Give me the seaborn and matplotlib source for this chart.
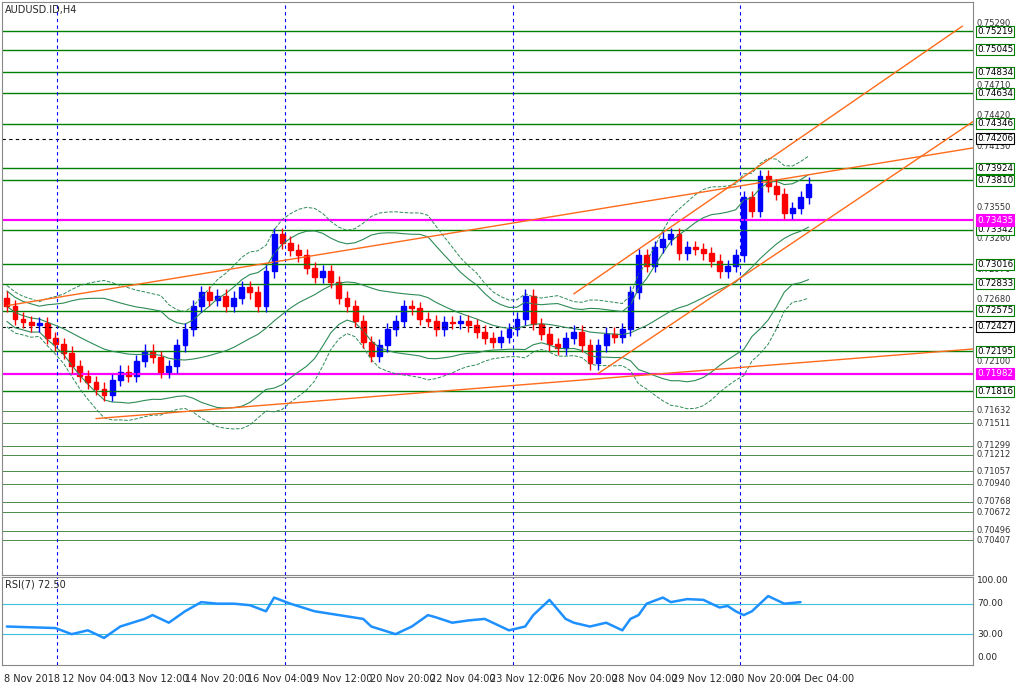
import numpy as np
import pandas as pd
import matplotlib
matplotlib.use("Agg")
import matplotlib.pyplot as plt
import seaborn as sns

sns.set_style("white")
plt.rcParams['font.family'] = ['DejaVu Sans']

closes = [0.7262,0.7250,0.7247,0.7244,0.7246,0.7232,0.7226,0.7218,0.7205,0.7196,0.7190,0.7184,0.7178,0.7192,0.7200,
          0.7196,0.7210,0.7220,0.7214,0.7200,0.7205,0.7225,0.7240,0.7262,0.7275,0.7268,0.7272,0.7262,0.7270,0.7280,
          0.7275,0.7262,0.7295,0.7330,0.7322,0.7315,0.7310,0.7298,0.7290,0.7295,0.7285,0.7270,0.7262,0.7248,0.7228,
          0.7215,0.7225,0.7240,0.7248,0.7262,0.7260,0.7250,0.7248,0.7240,0.7247,0.7246,0.7248,0.7244,0.7238,0.7232,
          0.7228,0.7233,0.7240,0.7250,0.7272,0.7245,0.7236,0.7226,0.7222,0.7232,0.7238,0.7225,0.7208,0.7225,0.7236,
          0.7233,0.7240,0.7275,0.7310,0.7300,0.7318,0.7326,0.7330,0.7312,0.7318,0.7316,0.7312,0.7305,0.7295,0.7300,
          0.7310,0.7365,0.7352,0.7385,0.7376,0.7368,0.7350,0.7355,0.7365,0.7378]
first_open = 0.7270
wick = 0.0006

rsi_x = [0,6,8,10,12,14,17,18,20,22,24,26,28,30,32,33,35,38,41,44,45,48,50,52,53,55,57,59,60,62,64,65,67,69,70,72,
         74,76,77,78,79,81,82,84,86,88,89,90,91,92,94,96,98]
rsi_v = [40,38,30,35,25,40,50,55,45,60,72,70,70,68,60,78,70,60,55,50,40,30,40,55,52,45,48,50,45,35,40,55,75,50,45,40,
         45,35,50,55,70,78,72,76,75,65,67,60,55,60,80,70,72]

level_green = [0.75219,0.75045,0.74834,0.74634,0.74346,0.73924,0.73810,0.73342,0.73016,0.72833,0.72575,0.72195,0.71816]
level_magenta = [0.73435,0.71982]
level_black = [0.74206,0.72427]
level_grey = [0.71632,0.71511,0.71299,0.71212,0.71057,0.70940,0.70768,0.70672,0.70496,0.70407]
plain_labels = [0.75290,0.74710,0.74420,0.74130,0.73550,0.73260,0.72970,0.72680,0.72100]

trend_lines = [((0,0.72625),(120,0.74126)),((70,0.72736),(118,0.75270)),((73,0.71982),(121,0.74454)),((11,0.71556),(121,0.72225))]
vlines = [6.2,34.3,62.5,90.5]
xlabels = ['8 Nov 2018','12 Nov 04:00','13 Nov 12:00','14 Nov 20:00','16 Nov 04:00','19 Nov 12:00','20 Nov 20:00',
           '22 Nov 04:00','23 Nov 12:00','26 Nov 20:00','28 Nov 04:00','29 Nov 12:00','30 Nov 20:00','4 Dec 04:00']
xlabel_pos = [-0.4,6.8,14.4,22.0,29.6,37.1,44.8,52.2,59.6,67.3,74.7,82.1,89.5,97.3]

df = pd.DataFrame({'c': closes})
df['o'] = [first_open] + closes[:-1]
df['i'] = np.arange(len(df))
mid = df['c'].rolling(20, min_periods=1).mean()
sd = df['c'].rolling(20, min_periods=2).std().bfill()

fig = plt.figure(figsize=(10.24, 6.83), dpi=100)
ax = fig.add_axes([2/1024, 1-575/683, 971/1024, 573/683])
ax2 = fig.add_axes([2/1024, 1-665/683, 971/1024, 88/683])
xmin, xmax = -0.6, 119.3
ymin, ymax = 0.70076, 0.75498
ax.set_xlim(xmin, xmax); ax.set_ylim(ymin, ymax)

for v in level_green:
    ax.axhline(v, color='green', lw=1)
for v in level_magenta:
    ax.axhline(v, color='magenta', lw=1.6)
for v in level_black:
    ax.axhline(v, color='black', lw=0.8, ls=(0,(3,3)))
for v in level_grey:
    ax.axhline(v, color='#4a8a4a', lw=0.7)
for v in vlines:
    ax.axvline(v, color='blue', lw=0.8, ls=(0,(3,3)))
    ax2.axvline(v, color='blue', lw=0.8, ls=(0,(3,3)))

sns.lineplot(x=df['i'], y=mid, ax=ax, color='#2e8b57', lw=0.8)
sns.lineplot(x=df['i'], y=mid+1.7*sd, ax=ax, color='#2e8b57', lw=0.8)
sns.lineplot(x=df['i'], y=mid-1.7*sd, ax=ax, color='#2e8b57', lw=0.8)
sns.lineplot(x=df['i'], y=mid+2.3*sd, ax=ax, color='#2e8b57', lw=0.7, ls='--')
sns.lineplot(x=df['i'], y=mid-2.3*sd, ax=ax, color='#2e8b57', lw=0.7, ls='--')

for (x0,y0),(x1,y1) in trend_lines:
    ax.plot([x0,x1],[y0,y1], color='#ff6a1a', lw=1)

for _, r in df.iterrows():
    up = r['c'] >= r['o']
    col = 'blue' if up else 'red'
    ax.vlines(r['i'], min(r['o'],r['c'])-wick, max(r['o'],r['c'])+wick, color=col, lw=1)
    h = max(abs(r['c']-r['o']), 0.00005)
    ax.add_patch(plt.Rectangle((r['i']-0.3, min(r['o'],r['c'])), 0.6, h, color=col))

ax.set_xticks([]); ax.set_yticks([])
for s in ax.spines.values(): s.set_color('#888888')

def ylab(a, v, box=None, fc='white', tc='black'):
    y = (v-ymin)/(ymax-ymin)
    if box:
        a.text(1.004, y, f"{v:.5f}", transform=a.transAxes, fontsize=6.3, va='center', color=tc, zorder=5,
               bbox=dict(boxstyle='square,pad=0.12', fc=fc, ec=box, lw=0.8))
    else:
        a.text(1.004, y, f"{v:.5f}", transform=a.transAxes, fontsize=6, va='center', color='#333333')
for v in plain_labels+level_grey: ylab(ax, v)
for v in level_green: ylab(ax, v, 'green')
for v in level_black: ylab(ax, v, 'black')
for v in level_magenta: ylab(ax, v, 'magenta', fc='magenta', tc='white')
ax.text(0.003, 0.995, 'AUDUSD.ID,H4', transform=ax.transAxes, fontsize=7, va='top')

ax2.set_xlim(xmin, xmax); ax2.set_ylim(-10.5, 105)
ax2.axhline(70, color='#3fc0e0', lw=0.8); ax2.axhline(30, color='#3fc0e0', lw=0.8)
sns.lineplot(x=rsi_x, y=rsi_v, ax=ax2, color='dodgerblue', lw=1.8)
ax2.set_xticks([]); ax2.set_yticks([]); ax2.set_xlabel(''); ax2.set_ylabel('')
ax.set_xlabel(''); ax.set_ylabel('')
for s in ax2.spines.values(): s.set_color('#888888')
for v in [100,70,30,0]:
    ax2.text(1.004, (v+10.5)/115.5, f"{v:.2f}", transform=ax2.transAxes, fontsize=6.5, va='center')
ax2.text(0.003, 0.97, 'RSI(7) 72.50', transform=ax2.transAxes, fontsize=7, va='top')
for p, t in zip(xlabel_pos, xlabels):
    ax2.text(p, -0.1, t, transform=ax2.get_xaxis_transform(), fontsize=7, va='top', ha='left')
fig.savefig('out.png', dpi=100, facecolor='white')
